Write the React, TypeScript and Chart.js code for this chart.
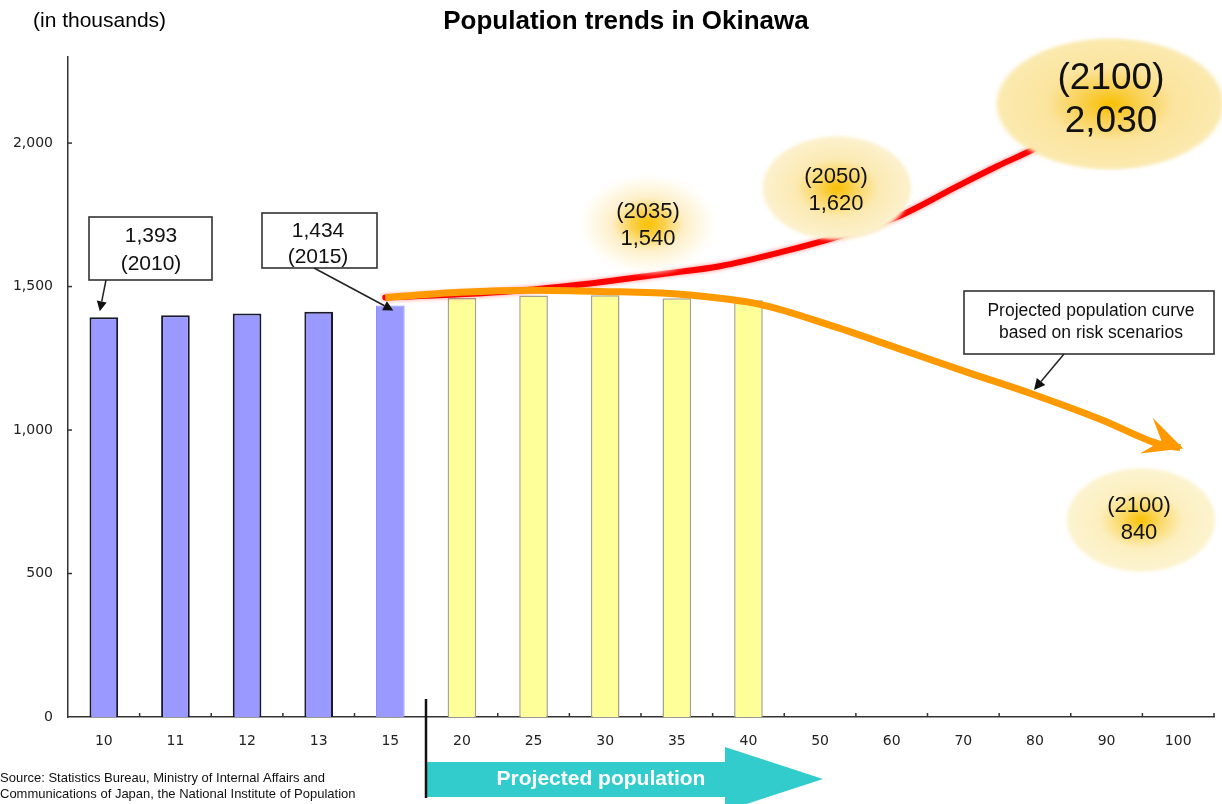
import React, { useEffect, useRef } from "react";
import { Chart, registerables } from "chart.js";

Chart.register(...registerables);

// Year labels along the bottom axis (2010 = "10", 2100 = "100")
const categories = ["10", "11", "12", "13", "15", "20", "25", "30", "35", "40", "50", "60", "70", "80", "90", "100"];

// Recorded population (thousands)
const recordedPopulation = [1393, 1400, 1406, 1412, 1434, null, null, null, null, null, null, null, null, null, null, null];

// Projected population (thousands)
const projectedPopulation = [null, null, null, null, null, 1460, 1469, 1470, 1459, 1452, null, null, null, null, null, null];

// Y axis tick values
const yTicks = [0, 500, 1000, 1500, 2000];

// Upward curve (category-index position, thousands)
const growthCurveX = [3.93, 4.98, 6.0, 6.93, 7.77, 8.6, 9.44, 10.26, 11.1, 11.92, 12.48, 12.98, 13.33];
const growthCurveY = [1462, 1473, 1490, 1515, 1543, 1571, 1619, 1675, 1745, 1850, 1920, 1979, 2030];

// Risk-scenario curve (category-index position, thousands)
const riskCurveX = [3.93, 4.98, 5.96, 6.93, 8.04, 9.16, 10.19, 11.13, 12.06, 12.98, 13.92, 14.76, 15.03];
const riskCurveY = [1462, 1480, 1487, 1483, 1473, 1438, 1361, 1281, 1201, 1124, 1037, 949, 939];

const SANS = "Arial, 'Liberation Sans', sans-serif";
const TICK_FONT = "'DejaVu Sans', Verdana, sans-serif";

type Stop = [number, string];

function glowEllipse(ctx: CanvasRenderingContext2D, cx: number, cy: number, rx: number, ry: number, stops: Stop[]) {
  ctx.save();
  ctx.filter = "blur(1.5px)";
  ctx.translate(cx, cy);
  ctx.scale(rx, ry);
  const g = ctx.createRadialGradient(0, 0, 0, 0, 0, 1);
  stops.forEach(([o, c]) => g.addColorStop(o, c));
  ctx.fillStyle = g;
  ctx.beginPath();
  ctx.arc(0, 0, 1, 0, Math.PI * 2);
  ctx.fill();
  ctx.restore();
}

function textLines(ctx: CanvasRenderingContext2D, lines: string[], cx: number, ys: number[], font: string, color = "#111") {
  ctx.save();
  ctx.font = font;
  ctx.fillStyle = color;
  ctx.textAlign = "center";
  ctx.textBaseline = "middle";
  lines.forEach((t, i) => ctx.fillText(t, cx, ys[i]));
  ctx.restore();
}

function arrow(ctx: CanvasRenderingContext2D, x1: number, y1: number, x2: number, y2: number, head = 10, half = 5) {
  const a = Math.atan2(y2 - y1, x2 - x1);
  const bx = x2 - head * Math.cos(a);
  const by = y2 - head * Math.sin(a);
  ctx.save();
  ctx.strokeStyle = "#222";
  ctx.fillStyle = "#111";
  ctx.lineWidth = 1.5;
  ctx.beginPath();
  ctx.moveTo(x1, y1);
  ctx.lineTo(bx, by);
  ctx.stroke();
  ctx.beginPath();
  ctx.moveTo(x2, y2);
  ctx.lineTo(bx + half * Math.sin(a), by - half * Math.cos(a));
  ctx.lineTo(bx - half * Math.sin(a), by + half * Math.cos(a));
  ctx.closePath();
  ctx.fill();
  ctx.restore();
}

function calloutBox(ctx: CanvasRenderingContext2D, x: number, y: number, w: number, h: number) {
  ctx.save();
  ctx.fillStyle = "#fff";
  ctx.strokeStyle = "#333";
  ctx.lineWidth = 1.6;
  ctx.fillRect(x, y, w, h);
  ctx.strokeRect(x, y, w, h);
  ctx.restore();
}

const redGlow = {
  id: "redGlow",
  beforeDatasetDraw(chart: any, args: any) {
    if (args.index === 2) {
      chart.ctx.save();
      chart.ctx.shadowColor = "rgba(255,40,40,0.55)";
      chart.ctx.shadowBlur = 4;
    }
  },
  afterDatasetDraw(chart: any, args: any) {
    if (args.index === 2) chart.ctx.restore();
  },
};

const decorations = {
  id: "decorations",
  afterDatasetsDraw(chart: any) {
    const ctx: CanvasRenderingContext2D = chart.ctx;
    const area = chart.chartArea;
    const xs = chart.scales.xl;
    const ys = chart.scales.y;

    // inward tick marks
    ctx.save();
    ctx.strokeStyle = "#333";
    ctx.lineWidth = 1.5;
    for (let i = 0; i < categories.length; i++) {
      const x = xs.getPixelForValue(i + 0.5);
      ctx.beginPath();
      ctx.moveTo(x, area.bottom);
      ctx.lineTo(x, area.bottom - 4);
      ctx.stroke();
    }
    yTicks.forEach((v) => {
      if (v === 0) return;
      const y = ys.getPixelForValue(v);
      ctx.beginPath();
      ctx.moveTo(area.left, y);
      ctx.lineTo(area.left + 4, y);
      ctx.stroke();
    });
    ctx.restore();

    // arrowhead on the risk-scenario curve
    const n = riskCurveX.length;
    const tx = xs.getPixelForValue(riskCurveX[n - 1]);
    const ty = ys.getPixelForValue(riskCurveY[n - 1]);
    const px = xs.getPixelForValue(riskCurveX[n - 3]);
    const py = ys.getPixelForValue(riskCurveY[n - 3]);
    const a = Math.atan2(ty - py, tx - px);
    const L = 36, W = 19, notch = 20;
    const ca = Math.cos(a), sa = Math.sin(a);
    ctx.save();
    ctx.fillStyle = "#ff9900";
    ctx.beginPath();
    ctx.moveTo(tx + 3 * ca, ty + 3 * sa);
    ctx.lineTo(tx - L * ca - W * sa, ty - L * sa + W * ca);
    ctx.lineTo(tx - notch * ca, ty - notch * sa);
    ctx.lineTo(tx - L * ca + W * sa, ty - L * sa - W * ca);
    ctx.closePath();
    ctx.fill();
    ctx.restore();

    // value bubbles
    glowEllipse(ctx, 648, 224, 72, 52, [
      [0, "#f8c000"],
      [0.22, "#fad04a"],
      [0.5, "#fdefc8"],
      [0.85, "#fffcf3"],
      [1, "rgba(255,255,255,0)"],
    ]);
    textLines(ctx, ["(2035)", "1,540"], 648, [212, 239], `22px ${SANS}`);

    glowEllipse(ctx, 837, 188, 76, 53, [
      [0, "#f8be00"],
      [0.25, "#fad55e"],
      [0.55, "#fbeab4"],
      [0.95, "#fcf1cd"],
      [1, "rgba(252,241,205,0)"],
    ]);
    textLines(ctx, ["(2050)", "1,620"], 836, [177, 204], `22px ${SANS}`);

    glowEllipse(ctx, 1110, 104, 116, 67, [
      [0, "#f8c000"],
      [0.25, "#f9d050"],
      [0.55, "#fbe49e"],
      [0.95, "#fbe9ae"],
      [1, "rgba(251,233,174,0)"],
    ]);
    textLines(ctx, ["(2100)", "2,030"], 1111, [79, 122], `37px ${SANS}`);

    glowEllipse(ctx, 1141, 520, 76, 53, [
      [0, "#f8c000"],
      [0.25, "#fad865"],
      [0.55, "#fcefc0"],
      [0.95, "#fcf3cf"],
      [1, "rgba(252,243,207,0)"],
    ]);
    textLines(ctx, ["(2100)", "840"], 1139, [506, 533], `22px ${SANS}`);

    // call-out boxes with arrows
    const bars = chart.getDatasetMeta(0).data;
    const b10 = bars[0];
    const b15 = bars[4];

    calloutBox(ctx, 89, 217, 123, 63);
    textLines(ctx, ["1,393", "(2010)"], 151, [236, 264], `21px ${SANS}`);
    arrow(ctx, 106, 280, b10.x - 4, b10.y - 6);

    calloutBox(ctx, 262, 213, 115, 55);
    textLines(ctx, ["1,434", "(2015)"], 318, [231, 257], `21px ${SANS}`);
    arrow(ctx, 314, 268, b15.x + 3, b15.y + 5);

    calloutBox(ctx, 964, 291, 250, 63);
    textLines(ctx, ["Projected population curve", "based on risk scenarios"], 1091, [311, 333], `17.5px ${SANS}`);
    arrow(ctx, 1064, 354, 1034, 390, 11, 5.5);
  },
  afterDraw(chart: any) {
    const ctx: CanvasRenderingContext2D = chart.ctx;
    const xs = chart.scales.xl;
    const divider = Math.round(xs.getPixelForValue(4.5));

    // title and unit
    ctx.save();
    ctx.fillStyle = "#000";
    ctx.textBaseline = "middle";
    ctx.textAlign = "center";
    ctx.font = `bold 26px ${SANS}`;
    ctx.fillText("Population trends in Okinawa", 626, 22);
    ctx.textAlign = "left";
    ctx.font = `21px ${SANS}`;
    ctx.fillText("(in thousands)", 33, 21);

    // source note
    ctx.font = `13px ${SANS}`;
    ctx.fillStyle = "#111";
    ctx.fillText("Source: Statistics Bureau, Ministry of Internal Affairs and", 0, 778);
    ctx.fillText("Communications of Japan, the National Institute of Population", 0, 794);

    // projection arrow band
    ctx.fillStyle = "#33cccc";
    ctx.beginPath();
    ctx.moveTo(divider, 762);
    ctx.lineTo(725, 762);
    ctx.lineTo(725, 747);
    ctx.lineTo(823, 779);
    ctx.lineTo(725, 811);
    ctx.lineTo(725, 797);
    ctx.lineTo(divider, 797);
    ctx.closePath();
    ctx.fill();
    ctx.fillStyle = "#fff";
    ctx.textAlign = "center";
    ctx.font = `bold 21px ${SANS}`;
    ctx.fillText("Projected population", 601, 779);

    ctx.strokeStyle = "#111";
    ctx.lineWidth = 2.5;
    ctx.beginPath();
    ctx.moveTo(divider, 699);
    ctx.lineTo(divider, 798);
    ctx.stroke();
    ctx.restore();
  },
};

export default function App() {
  const canvasRef = useRef<HTMLCanvasElement | null>(null);

  useEffect(() => {
    const canvas = canvasRef.current;
    if (!canvas) return;

    const chart = new Chart(canvas, {
      type: "bar",
      data: {
        labels: categories,
        datasets: [
          {
            type: "bar",
            label: "Recorded",
            data: recordedPopulation as any,
            backgroundColor: "#9999ff",
            borderColor: ["#1a1a2e", "#1a1a2e", "#1a1a2e", "#1a1a2e", "#8f8ff5"],
            borderWidth: [2, 2, 2, 2, 1] as any,
            barPercentage: 0.4,
            categoryPercentage: 1,
            grouped: false,
            order: 3,
            xAxisID: "x",
          } as any,
          {
            type: "bar",
            label: "Projected",
            data: projectedPopulation as any,
            backgroundColor: "#ffff99",
            borderColor: "#a3a38f",
            borderWidth: 1.5,
            barPercentage: 0.4,
            categoryPercentage: 1,
            grouped: false,
            order: 3,
            xAxisID: "x",
          } as any,
          {
            type: "line",
            label: "Growth curve",
            data: growthCurveX.map((x, i) => ({ x, y: growthCurveY[i] })) as any,
            borderColor: "#ff0000",
            borderWidth: 6,
            pointRadius: 0,
            cubicInterpolationMode: "monotone",
            borderCapStyle: "round",
            order: 2,
            xAxisID: "xl",
          } as any,
          {
            type: "line",
            label: "Risk scenario curve",
            data: riskCurveX.map((x, i) => ({ x, y: riskCurveY[i] })) as any,
            borderColor: "#ff9900",
            borderWidth: 7,
            pointRadius: 0,
            cubicInterpolationMode: "monotone",
            borderCapStyle: "butt",
            order: 1,
            xAxisID: "xl",
          } as any,
        ],
      },
      options: {
        responsive: false,
        animation: false,
        layout: { padding: { top: 57, right: 8, left: 0, bottom: 0 } },
        plugins: {
          legend: { display: false },
          tooltip: { enabled: false },
          title: { display: false },
        },
        scales: {
          x: {
            type: "category",
            offset: true,
            grid: { display: false, drawTicks: false },
            border: { display: true, color: "#333", width: 1.5 },
            ticks: {
              padding: 16,
              color: "#222",
              autoSkip: false,
              maxRotation: 0,
              font: { family: TICK_FONT, size: 14 },
            },
            afterFit: (s: any) => {
              s.height = 87;
            },
          },
          // linear companion axis over the same width, used to place the curves
          xl: {
            type: "linear",
            position: "top",
            offset: false,
            min: -0.5,
            max: categories.length - 0.5,
            grid: { display: false, drawTicks: false, offset: false },
            border: { display: false },
            ticks: { display: false },
            afterFit: (s: any) => {
              s.height = 0;
            },
          },
          y: {
            min: 0,
            max: 2300,
            afterBuildTicks: (s: any) => {
              s.ticks = yTicks.map((v) => ({ value: v }));
            },
            grid: { display: false, drawTicks: false },
            border: { display: true, color: "#333", width: 1.5 },
            ticks: {
              padding: 15,
              color: "#222",
              font: { family: TICK_FONT, size: 14 },
              callback: (v: any) => Number(v).toLocaleString("en-US"),
            },
            afterFit: (s: any) => {
              s.width = 68;
            },
          },
        } as any,
      },
      plugins: [redGlow, decorations],
    });

    return () => chart.destroy();
  }, []);

  return (
    <div style={{ position: "absolute", left: 0, top: 0, width: 1222, height: 804, background: "#fff" }}>
      <canvas ref={canvasRef} width={1222} height={804} style={{ display: "block" }} />
    </div>
  );
}
